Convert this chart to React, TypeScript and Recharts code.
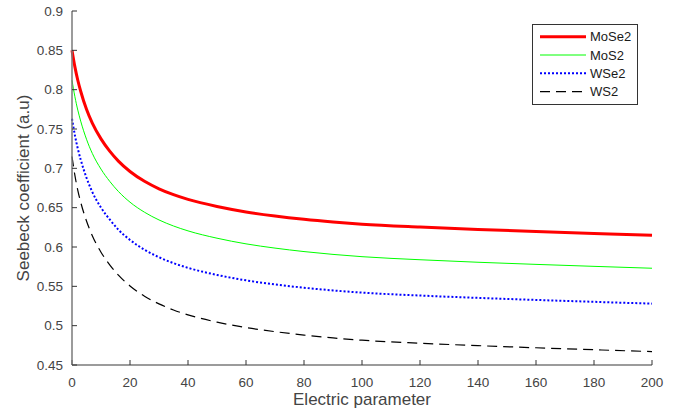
import React from 'react';
import { LineChart, Line, XAxis, YAxis, Legend } from 'recharts';

const xValues = [0, 1, 2, 3, 5, 7, 10, 13, 16, 20, 25, 30, 35, 40, 50, 60, 70, 80, 90, 100, 120, 140, 160, 180, 200];
const moSe2 = [0.850, 0.829, 0.812, 0.798, 0.775, 0.7574, 0.7374, 0.7218, 0.7092, 0.696, 0.6835, 0.674, 0.6665, 0.6605, 0.6515, 0.6446, 0.6394, 0.6352, 0.6318, 0.629, 0.6253, 0.6223, 0.6197, 0.6173, 0.615];
const moS2 = [0.812, 0.791, 0.774, 0.760, 0.737, 0.719, 0.699, 0.6835, 0.6706, 0.657, 0.6442, 0.6344, 0.6267, 0.6205, 0.6112, 0.604, 0.5986, 0.5942, 0.5906, 0.5877, 0.5838, 0.5806, 0.5779, 0.5754, 0.573];
const wSe2 = [0.763, 0.742, 0.725, 0.711, 0.688, 0.670, 0.650, 0.635, 0.622, 0.609, 0.5965, 0.587, 0.5795, 0.5735, 0.5645, 0.5576, 0.5524, 0.5482, 0.5448, 0.542, 0.5383, 0.5353, 0.5327, 0.5303, 0.528];
const wS2 = [0.715, 0.691, 0.672, 0.657, 0.633, 0.6144, 0.5934, 0.5773, 0.5642, 0.5505, 0.5375, 0.5277, 0.5199, 0.5137, 0.5045, 0.4976, 0.4924, 0.488, 0.4844, 0.4815, 0.4777, 0.4746, 0.4719, 0.4694, 0.467];

const seriesNames = ['MoSe2', 'MoS2', 'WSe2', 'WS2'];
const xTicks = [0, 20, 40, 60, 80, 100, 120, 140, 160, 180, 200];
const yTicks = [0.45, 0.5, 0.55, 0.6, 0.65, 0.7, 0.75, 0.8, 0.85, 0.9];
const xLabel = 'Electric parameter';
const yLabel = 'Seebeck coefficient (a.u)';

const data = xValues.map((x, i) => ({
  x,
  MoSe2: moSe2[i],
  MoS2: moS2[i],
  WSe2: wSe2[i],
  WS2: wS2[i],
}));

const styles: Record<string, { stroke: string; width: number; dash?: string }> = {
  MoSe2: { stroke: '#ff0000', width: 3 },
  MoS2: { stroke: '#00ff00', width: 1 },
  WSe2: { stroke: '#0000ff', width: 2, dash: '2 2' },
  WS2: { stroke: '#000000', width: 1.2, dash: '10 6' },
};

const FONT = '"Liberation Sans", Arial, Helvetica, sans-serif';

const LegendBox = () => (
  <svg width={106} height={81} style={{ display: 'block' }}>
    <rect x={0.5} y={0.5} width={105} height={80} fill="#ffffff" stroke="#333333" strokeWidth={1} />
    {seriesNames.map((name, i) => {
      const s = styles[name];
      const cy = 12.7 + i * 18.3;
      return (
        <g key={name}>
          <line x1={8} x2={54} y1={cy} y2={cy} stroke={s.stroke} strokeWidth={s.width} strokeDasharray={s.dash} />
          <text x={58} y={cy + 4.6} fontSize={13} fontFamily={FONT} fill="#1a1a1a">{name}</text>
        </g>
      );
    })}
  </svg>
);

export default function App() {
  return (
    <div style={{ position: 'absolute', left: 0, top: 0, background: '#ffffff' }}>
      <LineChart width={681} height={412} data={data} margin={{ top: 11, right: 29, left: 0, bottom: 2 }}>
        <XAxis
          dataKey="x"
          type="number"
          domain={[0, 200]}
          ticks={xTicks}
          interval={0}
          height={45}
          axisLine={{ stroke: '#7a7a7a', strokeWidth: 1.5 }}
          tickLine={{ stroke: '#333333' }}
          tickSize={-5}
          tickMargin={17}
          tick={{ fontSize: 13.5, fontFamily: FONT, fill: '#444444' }}
          label={{ value: xLabel, position: 'insideBottom', offset: 5, fontSize: 17, fontFamily: FONT, fill: '#444444' }}
        />
        <YAxis
          type="number"
          domain={[0.45, 0.9]}
          ticks={yTicks}
          interval={0}
          width={72}
          axisLine={{ stroke: '#7a7a7a', strokeWidth: 1.5 }}
          tickLine={{ stroke: '#333333' }}
          tickSize={-5}
          tickMargin={14}
          tick={{ fontSize: 13.5, fontFamily: FONT, fill: '#444444' }}
          label={{ value: yLabel, angle: -90, position: 'insideLeft', offset: 23, fontSize: 17, fontFamily: FONT, fill: '#444444', style: { textAnchor: 'middle' } }}
        />
        <Legend
          layout="vertical"
          align="center"
          verticalAlign="middle"
          wrapperStyle={{ position: 'absolute', left: 532, top: 24, width: 106, height: 81 }}
          content={() => <LegendBox />}
        />
        {seriesNames.map((name) => {
          const s = styles[name];
          return (
            <Line
              key={name}
              dataKey={name}
              type="monotone"
              stroke={s.stroke}
              strokeWidth={s.width}
              strokeDasharray={s.dash}
              dot={false}
              activeDot={false}
              isAnimationActive={false}
            />
          );
        })}
      </LineChart>
    </div>
  );
}
